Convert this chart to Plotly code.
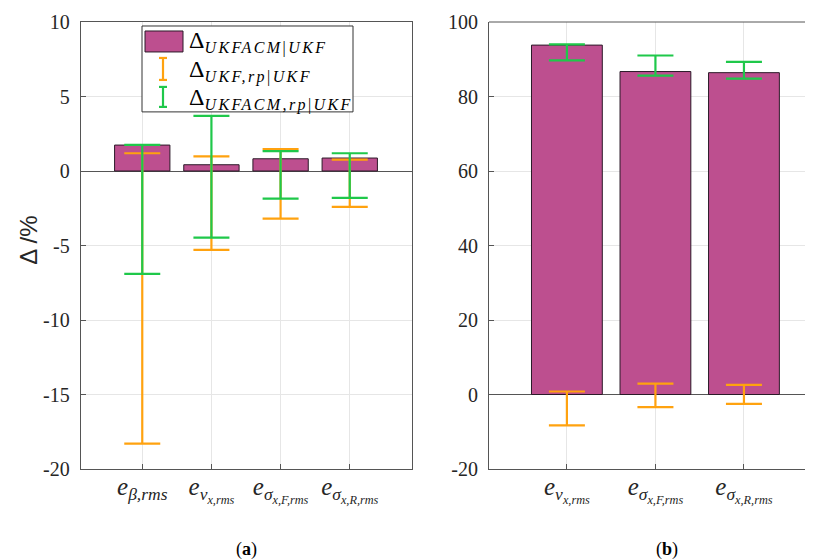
import plotly.graph_objects as go

# ---------------- data ----------------
cats_a = [1, 2, 3, 4]
labels_a = ["<i>e</i><sub><i>β,rms</i></sub>",
            "<i>e</i><sub><i>v<sub>x,rms</sub></i></sub>",
            "<i>e</i><sub><i>σ<sub>x,F,rms</sub></i></sub>",
            "<i>e</i><sub><i>σ<sub>x,R,rms</sub></i></sub>"]
bars_a = [1.74, 0.42, 0.82, 0.87]
orange_lo_a = [-18.3, -5.3, -3.2, -2.41]
orange_hi_a = [1.19, 0.98, 1.47, 0.76]
green_lo_a = [-6.9, -4.47, -1.85, -1.81]
green_hi_a = [1.76, 3.7, 1.34, 1.19]

cats_b = [1, 2, 3]
labels_b = labels_a[1:]
bars_b = [93.8, 86.7, 86.4]
orange_lo_b = [-8.3, -3.4, -2.5]
orange_hi_b = [0.8, 2.9, 2.6]
green_lo_b = [89.7, 85.6, 84.8]
green_hi_b = [94.0, 91.0, 89.3]

yticks_a = [-20, -15, -10, -5, 0, 5, 10]
yticks_b = [-20, 0, 20, 40, 60, 80, 100]

# ---------------- style ----------------
OFF = 8                      # page body margin of the html page
WF, HF = 813 - OFF, 560 - OFF
PT, PB = 22, 469.5           # plot area top/bottom in page pixels
PH = PB - PT
BAR = "#BD4F8F"
EDGE = "#2B1A28"
ORANGE = "#FFA20F"
GREEN = "#1FC84A"
AX = "#555555"
GRID = "#E6E6E6"
SERIF = "Liberation Serif"
TXT = "#262626"


def px(x):
    return (x - OFF) / WF


def py(y):
    return (PB - y) / PH


fig = go.Figure()


def add_panel(xa, ya, cats, bars, olo, ohi, glo, ghi):
    fig.add_trace(go.Bar(x=cats, y=bars, width=0.8, marker=dict(color=BAR, line=dict(color=EDGE, width=1)),
                         xaxis=xa, yaxis=ya, showlegend=False))
    for lo, hi, col in ((olo, ohi, ORANGE), (glo, ghi, GREEN)):
        mid = [(a + b) / 2 for a, b in zip(lo, hi)]
        half = [(b - a) / 2 for a, b in zip(lo, hi)]
        fig.add_trace(go.Scatter(x=cats, y=mid, mode="markers", marker=dict(opacity=0, size=1),
                                 error_y=dict(type="data", symmetric=True, array=half, color=col,
                                              thickness=2.2, width=18),
                                 xaxis=xa, yaxis=ya, showlegend=False, hoverinfo="skip"))


add_panel("x", "y", cats_a, bars_a, orange_lo_a, orange_hi_a, green_lo_a, green_hi_a)
add_panel("x2", "y2", cats_b, bars_b, orange_lo_b, orange_hi_b, green_lo_b, green_hi_b)

axis_common = dict(showline=True, linecolor=AX, linewidth=1, ticks="inside", ticklen=5, tickcolor=AX,
                   showgrid=True, gridcolor=GRID, gridwidth=1)
xfont = dict(family=SERIF, size=25, color=TXT)
yfont = dict(family=SERIF, size=20, color=TXT)

fig.update_layout(
    width=WF, height=HF, margin=dict(l=0, r=0, t=PT - OFF, b=560 - PB),
    paper_bgcolor="white", plot_bgcolor="white",
    xaxis=dict(domain=[px(80.7), px(412)], range=[0.11, 4.9], tickvals=cats_a, ticktext=labels_a,
               mirror=True, zeroline=False, anchor="y", tickfont=xfont, ticklabelstandoff=-5, **axis_common),
    yaxis=dict(range=[-20, 10], tickvals=yticks_a, ticktext=[str(v) for v in yticks_a], mirror=True,
               zeroline=True, zerolinecolor=AX, zerolinewidth=1, tickfont=yfont,
               anchor="x", ticklabelstandoff=6, **axis_common),
    xaxis2=dict(domain=[px(489), 1.0], range=[0.12, 3.78], tickvals=cats_b, ticktext=labels_b,
                mirror=False, zeroline=False, anchor="y2", tickfont=xfont, ticklabelstandoff=-5, **axis_common),
    yaxis2=dict(range=[-20, 100], tickvals=yticks_b, ticktext=[str(v) for v in yticks_b], mirror=False,
                zeroline=True, zerolinecolor=AX, zerolinewidth=1, tickfont=yfont,
                anchor="x2", ticklabelstandoff=6, **axis_common),
)

shapes = []
shapes.append(dict(type="line", xref="paper", yref="paper", x0=px(489), x1=1.0, y0=1, y1=1,
                   line=dict(color=AX, width=1)))
# legend box
shapes.append(dict(type="rect", xref="paper", yref="paper", x0=px(142), x1=px(353), y0=py(26), y1=py(112),
                   fillcolor="white", line=dict(color="#333333", width=1)))
shapes.append(dict(type="rect", xref="paper", yref="paper", x0=px(145), x1=px(183), y0=py(31), y1=py(52),
                   fillcolor=BAR, line=dict(color=EDGE, width=1)))
for (y0, y1, col) in ((58, 80, ORANGE), (87, 107, GREEN)):
    shapes.append(dict(type="line", xref="paper", yref="paper", x0=px(163), x1=px(163), y0=py(y0), y1=py(y1),
                       line=dict(color=col, width=2.2)))
    for yy in (y0, y1):
        shapes.append(dict(type="line", xref="paper", yref="paper", x0=px(159), x1=px(167), y0=py(yy), y1=py(yy),
                           line=dict(color=col, width=2.2)))
fig.update_layout(shapes=shapes)

SUB = "<span style='font-size:16px;letter-spacing:2.4px'>"
legend_txt = ["Δ<sub>" + SUB + "<i>UKFACM</i>|<i>UKF</i></span></sub>",
              "Δ<sub>" + SUB + "<i>UKF,rp</i>|<i>UKF</i></span></sub>",
              "Δ<sub>" + SUB + "<i>UKFACM,rp</i>|<i>UKF</i></span></sub>"]
anns = []
for t, yc in zip(legend_txt, (42, 71, 99)):
    anns.append(dict(text=t, xref="paper", yref="paper", x=px(187), y=py(yc), xanchor="left", yanchor="middle",
                     showarrow=False, font=dict(family=SERIF, size=24, color="black")))
anns.append(dict(text="Δ /%", xref="paper", yref="paper", x=px(29), y=py(241), textangle=-90,
                 xanchor="center", yanchor="middle", showarrow=False,
                 font=dict(family="Liberation Sans", size=24, color=TXT)))
anns.append(dict(text="(<b>a</b>)", xref="paper", yref="paper", x=px(246), y=py(550), xanchor="center",
                 yanchor="middle", showarrow=False, font=dict(family=SERIF, size=18, color="black")))
anns.append(dict(text="(<b>b</b>)", xref="paper", yref="paper", x=px(667), y=py(550), xanchor="center",
                 yanchor="middle", showarrow=False, font=dict(family=SERIF, size=18, color="black")))
fig.update_layout(annotations=anns)

fig.write_html("out.html")
